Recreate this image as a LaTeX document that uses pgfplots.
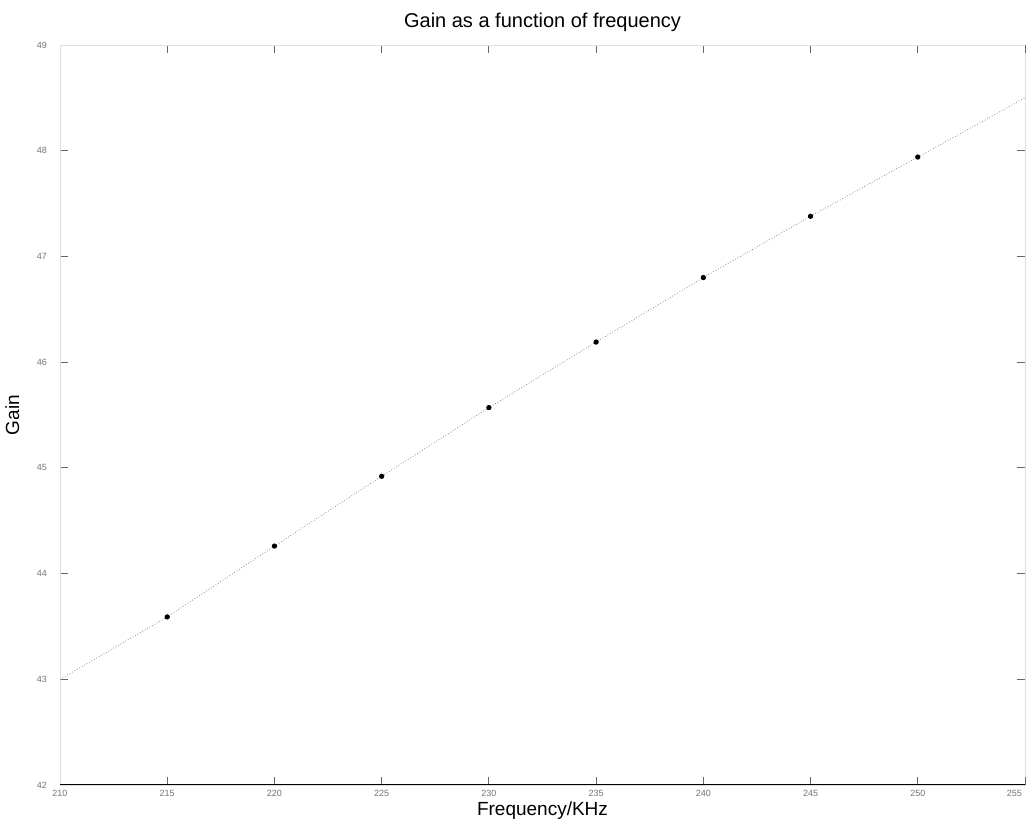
\documentclass[border=0pt]{standalone}
\usepackage{pgfplots}
\pgfplotsset{compat=1.18}
\usepackage{fontspec}
\setmainfont{Liberation Sans}
\begin{document}
\begin{tikzpicture}
\useasboundingbox (-30pt,-22pt) rectangle (484.5pt,392.5pt);
\begin{axis}[
  at={(0,0)}, anchor=origin,
  scale only axis, width=482.5pt, height=370pt,
  xmin=210, xmax=255, ymin=42, ymax=49,
  xtick={210,215,...,250}, ytick={42,43,...,49},
  extra x ticks={255},
  extra x tick style={xticklabel style={anchor=north east, xshift=2pt}},
  tick align=inside,
  major tick length=4pt,
  tick style={black!60, thin},
  axis line style={black!12},
  ticklabel style={font=\fontsize{4.5}{5}\selectfont, text=black!55},
  /pgf/number format/assume math mode=true,
  xticklabel style={yshift=1pt},
  yticklabel style={xshift=-3pt},
  title={Gain as a function of frequency},
  title style={font=\fontsize{10}{12}\selectfont, yshift=-3pt},
  xlabel={Frequency/KHz},
  xlabel style={font=\fontsize{9.5}{11}\selectfont, yshift=4pt},
  ylabel={Gain},
  ylabel style={font=\fontsize{9.5}{11}\selectfont, yshift=2pt},
]
\addplot[black!45, densely dotted, line width=0.4pt] coordinates {
  (210,43.00) (215,43.59) (220,44.26) (225,44.92) (230,45.57)
  (235,46.19) (240,46.80) (245,47.38) (250,47.94) (255,48.50)
};
\addplot[only marks, mark=*, mark size=1.1pt, black] coordinates {
  (215,43.59) (220,44.26) (225,44.92) (230,45.57)
  (235,46.19) (240,46.80) (245,47.38) (250,47.94)
};
\draw[black, line width=0.7pt] (rel axis cs:0,0) -- (rel axis cs:1,0);
\end{axis}
\end{tikzpicture}
\end{document}
